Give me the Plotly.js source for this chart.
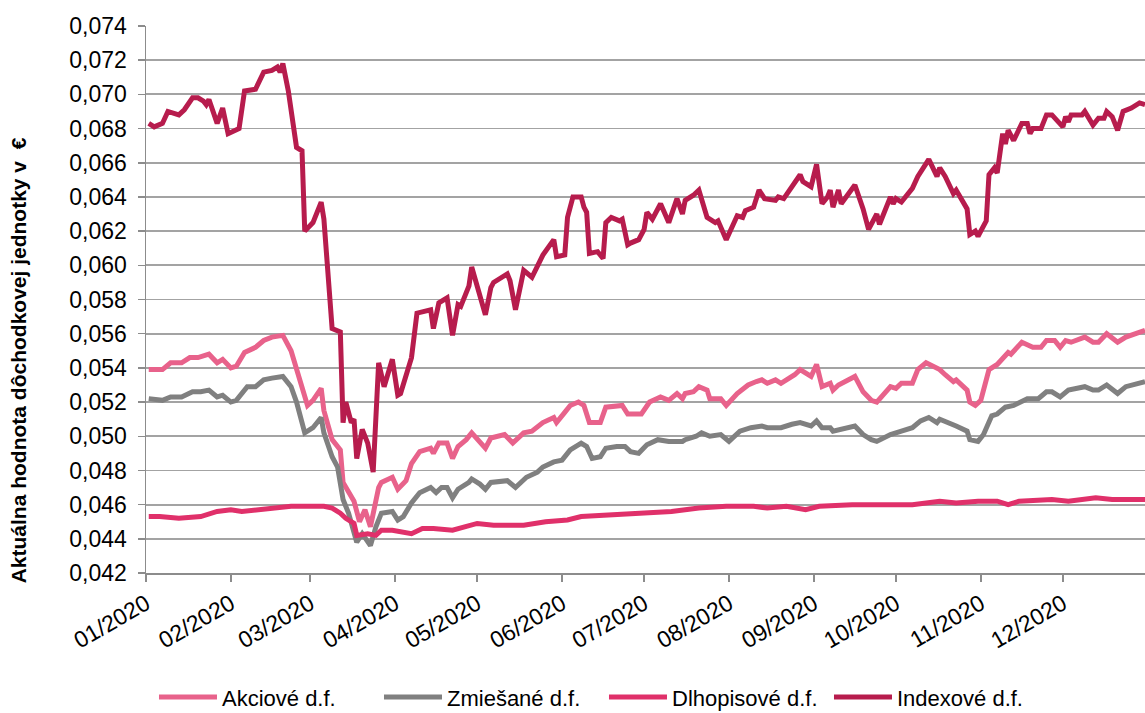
<!DOCTYPE html>
<html>
<head>
<meta charset="utf-8">
<script src="https://cdn.plot.ly/plotly-3.0.1.min.js"></script>
<style>
  html, body { margin: 0; padding: 0; background: #ffffff; }
  #chart { width: 1145px; height: 713px; }
</style>
</head>
<body>
<div id="chart"></div>
<script>
// ---- Data (day offsets from 2020-01-01, values in EUR) ----
const seriesNames = ["Akciové d.f.", "Zmiešané d.f.", "Dlhopisové d.f.", "Indexové d.f."];

const akcioveDays = [1,6,9,13,16,19,23,26,28,31,33,36,40,43,46,50,53,55,59,61,64,65,68,71,72,76,78,80,82,85,86,90,92,95,97,100,104,105,107,110,112,114,117,119,122,124,126,131,134,138,141,145,149,150,153,155,158,160,162,166,168,172,174,176,181,184,188,191,194,196,197,200,202,205,206,210,212,216,220,223,225,227,230,232,237,239,243,245,247,250,251,253,259,262,265,267,270,272,274,276,280,282,285,288,290,292,295,296,300,301,303,305,308,311,315,316,320,324,327,329,332,334,336,338,343,346,348,351,355,358,365];
const akcioveValues = [0.0539,0.0539,0.0543,0.0543,0.0546,0.0546,0.0548,0.0543,0.0545,0.0540,0.0541,0.0549,0.0552,0.0556,0.0558,0.0559,0.0550,0.0539,0.0518,0.0521,0.0528,0.0515,0.0498,0.0492,0.0473,0.0462,0.0450,0.0457,0.0447,0.0470,0.0473,0.0476,0.0469,0.0474,0.0484,0.0491,0.0493,0.0490,0.0496,0.0496,0.0487,0.0494,0.0498,0.0502,0.0497,0.0493,0.0499,0.0501,0.0496,0.0502,0.0503,0.0508,0.0511,0.0508,0.0514,0.0518,0.0520,0.0518,0.0508,0.0508,0.0517,0.0518,0.0518,0.0513,0.0513,0.0520,0.0523,0.0521,0.0525,0.0522,0.0525,0.0526,0.0529,0.0527,0.0522,0.0522,0.0518,0.0525,0.0530,0.0532,0.0533,0.0531,0.0533,0.0531,0.0536,0.0539,0.0535,0.0542,0.0529,0.0531,0.0527,0.0530,0.0535,0.0526,0.0521,0.0520,0.0526,0.0529,0.0528,0.0531,0.0531,0.0539,0.0543,0.0541,0.0539,0.0536,0.0532,0.0533,0.0527,0.0520,0.0518,0.0521,0.0539,0.0542,0.0549,0.0548,0.0555,0.0552,0.0552,0.0556,0.0556,0.0552,0.0556,0.0555,0.0558,0.0555,0.0555,0.0560,0.0555,0.0558,0.0562];

const zmiesaneDays = [1,6,9,13,17,20,23,26,28,31,33,37,40,43,46,50,53,55,58,61,64,65,68,70,72,74,77,79,82,84,86,90,92,94,97,100,104,106,108,110,112,114,118,119,122,124,126,132,135,139,143,145,149,152,155,159,161,163,166,168,172,175,177,180,183,187,191,196,197,201,203,206,210,213,217,221,225,227,230,232,236,239,243,245,247,250,251,259,262,265,267,272,276,280,283,286,289,290,296,300,301,304,306,309,311,314,317,322,326,329,331,334,337,343,346,348,351,355,358,365];
const zmiesaneValues = [0.0522,0.0521,0.0523,0.0523,0.0526,0.0526,0.0527,0.0523,0.0524,0.0520,0.0521,0.0529,0.0529,0.0533,0.0534,0.0535,0.0529,0.0520,0.0502,0.0505,0.0511,0.0502,0.0488,0.0482,0.0463,0.0455,0.0438,0.0443,0.0436,0.0447,0.0455,0.0456,0.0451,0.0453,0.0461,0.0467,0.0470,0.0467,0.0470,0.0470,0.0464,0.0469,0.0473,0.0475,0.0472,0.0469,0.0473,0.0474,0.0470,0.0476,0.0479,0.0482,0.0485,0.0486,0.0492,0.0496,0.0494,0.0487,0.0488,0.0493,0.0494,0.0494,0.0491,0.0490,0.0495,0.0498,0.0497,0.0497,0.0498,0.0500,0.0502,0.0500,0.0501,0.0497,0.0503,0.0505,0.0506,0.0505,0.0505,0.0505,0.0507,0.0508,0.0506,0.0509,0.0505,0.0505,0.0503,0.0506,0.0501,0.0498,0.0497,0.0501,0.0503,0.0505,0.0509,0.0511,0.0508,0.0510,0.0506,0.0503,0.0498,0.0497,0.0501,0.0512,0.0513,0.0517,0.0518,0.0522,0.0522,0.0526,0.0526,0.0523,0.0527,0.0529,0.0527,0.0527,0.0530,0.0525,0.0529,0.0532];

const dlhopisoveDays = [1,5,12,20,26,31,35,41,46,53,57,65,68,71,73,76,77,81,84,86,90,93,97,101,105,112,121,127,138,146,154,159,168,177,183,192,202,212,222,227,234,241,246,258,270,280,290,296,304,311,315,319,331,337,347,353,365];
const dlhopisoveValues = [0.0453,0.0453,0.0452,0.0453,0.0456,0.0457,0.0456,0.0457,0.0458,0.0459,0.0459,0.0459,0.0458,0.0455,0.0452,0.0449,0.0442,0.0443,0.0442,0.0445,0.0445,0.0444,0.0443,0.0446,0.0446,0.0445,0.0449,0.0448,0.0448,0.0450,0.0451,0.0453,0.0454,0.0455,0.0455,0.0456,0.0458,0.0459,0.0459,0.0458,0.0459,0.0457,0.0459,0.0460,0.0460,0.0460,0.0462,0.0461,0.0462,0.0462,0.0460,0.0462,0.0463,0.0462,0.0464,0.0463,0.0463];

const indexoveDays = [1,3,6,8,12,14,17,19,21,22,23,26,28,30,34,35,36,40,43,46,48,49,50,52,55,57,58,61,64,65,68,71,72,73,75,76,77,79,81,83,84,85,87,90,92,93,97,98,99,104,105,107,110,112,114,115,118,119,121,124,126,127,132,133,135,138,141,145,149,150,153,154,156,159,160,161,162,165,167,168,170,173,174,176,177,180,182,183,185,188,191,194,196,197,200,202,205,208,209,212,216,218,219,222,224,226,230,231,233,236,239,240,243,245,247,249,250,251,253,254,256,259,262,264,267,268,272,273,274,276,280,282,286,289,290,292,295,296,300,301,303,304,307,308,310,311,313,314,315,317,320,322,323,324,327,329,331,335,336,337,338,342,343,346,348,350,351,353,355,357,360,363,365];
const indexoveValues = [0.0683,0.0681,0.0683,0.0690,0.0688,0.0691,0.0698,0.0698,0.0696,0.0694,0.0697,0.0683,0.0692,0.0677,0.0680,0.0694,0.0702,0.0703,0.0713,0.0714,0.0716,0.0713,0.0718,0.0702,0.0669,0.0667,0.0620,0.0625,0.0637,0.0627,0.0563,0.0561,0.0508,0.0520,0.0508,0.0510,0.0487,0.0504,0.0496,0.0479,0.0519,0.0543,0.0529,0.0545,0.0524,0.0525,0.0546,0.0562,0.0572,0.0574,0.0563,0.0578,0.0581,0.0559,0.0577,0.0576,0.0588,0.0599,0.0587,0.0571,0.0587,0.0590,0.0595,0.0591,0.0574,0.0597,0.0593,0.0606,0.0615,0.0605,0.0606,0.0628,0.0640,0.0640,0.0634,0.0631,0.0607,0.0608,0.0604,0.0625,0.0628,0.0626,0.0627,0.0612,0.0613,0.0615,0.0621,0.0631,0.0627,0.0636,0.0625,0.0639,0.0630,0.0638,0.0641,0.0644,0.0628,0.0625,0.0626,0.0615,0.0629,0.0628,0.0632,0.0634,0.0644,0.0639,0.0638,0.0640,0.0639,0.0646,0.0653,0.0649,0.0646,0.0659,0.0636,0.0640,0.0644,0.0634,0.0644,0.0636,0.0640,0.0647,0.0633,0.0621,0.0630,0.0624,0.0640,0.0636,0.0639,0.0637,0.0645,0.0652,0.0662,0.0652,0.0657,0.0652,0.0642,0.0644,0.0633,0.0618,0.0620,0.0617,0.0626,0.0653,0.0657,0.0654,0.0677,0.0671,0.0679,0.0673,0.0683,0.0683,0.0677,0.0680,0.0680,0.0688,0.0688,0.0681,0.0687,0.0684,0.0688,0.0688,0.0690,0.0682,0.0686,0.0686,0.0690,0.0687,0.0679,0.0690,0.0692,0.0695,0.0694];

const monthTickDates = ["2020-01-01","2020-02-01","2020-03-01","2020-04-01","2020-05-01","2020-06-01","2020-07-01","2020-08-01","2020-09-01","2020-10-01","2020-11-01","2020-12-01"];
const monthTickLabels = ["01/2020","02/2020","03/2020","04/2020","05/2020","06/2020","07/2020","08/2020","09/2020","10/2020","11/2020","12/2020"];
const yTitle = "Aktuálna hodnota dôchodkovej jednotky v  €";

// ---- Helpers ----
function toDate(d) {
  return new Date(Date.UTC(2020, 0, 1 + d)).toISOString().slice(0, 10);
}
const colors = ["#E8628B", "#808080", "#E0306A", "#B71C4D"];
const daysList = [akcioveDays, zmiesaneDays, dlhopisoveDays, indexoveDays];
const valsList = [akcioveValues, zmiesaneValues, dlhopisoveValues, indexoveValues];

const FONT = "'Liberation Sans', Arial, sans-serif";

const traces = seriesNames.map((name, i) => ({
  type: "scatter",
  mode: "lines",
  name: name,
  x: daysList[i].map(toDate),
  y: valsList[i],
  line: { color: colors[i], width: 5 },
  hoverinfo: "x+y+name"
}));

const layout = {
  width: 1145,
  height: 713,
  margin: { l: 146, r: 0, t: 26, b: 140, autoexpand: false },
  paper_bgcolor: "#ffffff",
  plot_bgcolor: "#ffffff",
  separators: ",.",
  font: { family: FONT, size: 23, color: "#000000" },
  showlegend: true,
  legend: {
    orientation: "h",
    x: 0.008,
    xanchor: "left",
    y: -0.227,
    yanchor: "middle",
    itemwidth: 58,
    entrywidth: 152,
    entrywidthmode: "pixels",
    font: { family: FONT, size: 22, color: "#000000" },
    bgcolor: "rgba(0,0,0,0)"
  },
  xaxis: {
    type: "date",
    range: ["2020-01-01", "2020-12-31"],
    tickmode: "array",
    tickvals: monthTickDates,
    ticktext: monthTickLabels,
    tickangle: -30,
    ticks: "outside",
    ticklen: 7,
    tickwidth: 1.5,
    tickcolor: "#8c8c8c",
    showline: true,
    linecolor: "#8c8c8c",
    linewidth: 1.5,
    showgrid: false,
    zeroline: false,
    automargin: false,
    tickfont: { family: FONT, size: 23, color: "#000000" },
    fixedrange: true
  },
  yaxis: {
    range: [0.042, 0.074],
    dtick: 0.002,
    tick0: 0.042,
    tickformat: ".3f",
    ticks: "outside",
    ticklen: 7,
    tickwidth: 1.5,
    tickcolor: "#8c8c8c",
    ticklabelstandoff: 6,
    showline: true,
    linecolor: "#8c8c8c",
    linewidth: 1.5,
    showgrid: true,
    gridcolor: "#a3a3a3",
    gridwidth: 1.8,
    zeroline: false,
    automargin: false,
    tickfont: { family: FONT, size: 23, color: "#000000" },
    fixedrange: true
  },
  annotations: [{
    text: "<b>" + yTitle + "</b>",
    textangle: -90,
    xref: "paper",
    yref: "paper",
    x: -0.128,
    y: 0.389,
    xanchor: "center",
    yanchor: "middle",
    showarrow: false,
    font: { family: FONT, size: 21, color: "#000000" }
  }]
};

Plotly.newPlot("chart", traces, layout, { displayModeBar: false, staticPlot: true });
</script>
</body>
</html>
